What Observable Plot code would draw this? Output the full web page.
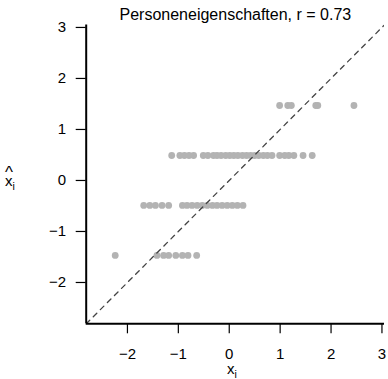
<!DOCTYPE html>
<html>
<head>
<meta charset="utf-8">
<script src="https://cdn.jsdelivr.net/npm/d3@7"></script>
<script src="https://cdn.jsdelivr.net/npm/@observablehq/plot@0.6"></script>
<style>
  html, body { margin: 0; padding: 0; background: #fff; }
  #chart svg { display: block; }
</style>
</head>
<body>
<div id="chart"></div>
<script>
// ---- data ----
const title = "Personeneigenschaften, r = 0.73";
const levels = [1.47, 0.49, -0.49, -1.47];
const xLevel1 = [0.99, 1.15, 1.22, 1.70, 1.74, 2.45];
const xLevel2 = [-1.13, -0.97, -0.88, -0.79, -0.70, -0.51, -0.42, -0.31, -0.24, -0.16, -0.07, 0.01, 0.09, 0.17, 0.26, 0.34, 0.42, 0.50, 0.58, 0.67, 0.75, 0.84, 0.99, 1.09, 1.17, 1.27, 1.45, 1.63];
const xLevel3 = [-1.68, -1.56, -1.45, -1.32, -1.19, -0.92, -0.83, -0.73, -0.63, -0.53, -0.43, -0.33, -0.24, -0.14, -0.04, 0.06, 0.16, 0.27];
const xLevel4 = [-2.24, -1.42, -1.29, -1.19, -1.05, -0.92, -0.81, -0.64];
const ticks = [-2, -1, 0, 1, 2, 3];
const yTicks = [-2, -1, 0, 1, 2, 3];
const lim = [-2.81, 3.05];

const rows = [xLevel1, xLevel2, xLevel3, xLevel4].flatMap((xs, i) => xs.map(x => ({x, y: levels[i]})));

const font = "'Liberation Sans', Arial, Helvetica, sans-serif";
const fmt = d => (d < 0 ? "\u2212" + (-d) : String(d));

const plot = Plot.plot({
  width: 388,
  height: 379,
  marginLeft: 85.7,
  marginRight: 4,
  marginTop: 24.4,
  marginBottom: 55.7,
  style: {fontFamily: font, fontSize: "15px", color: "#000", background: "#fff"},
  x: {domain: lim},
  y: {domain: lim},
  marks: [
    Plot.dot(rows, {x: "x", y: "y", r: 3.4, fill: "#b3b3b3", stroke: null}),
    Plot.line(lim, {x: d => d, y: d => d, stroke: "#444", strokeWidth: 1.3, strokeDasharray: "5,5", clip: true}),
    Plot.ruleX([lim[0]], {y1: lim[0], y2: lim[1], stroke: "#000", strokeWidth: 2}),
    Plot.ruleY([lim[0]], {x1: lim[0], x2: lim[1], stroke: "#000", strokeWidth: 2}),
    Plot.axisX(ticks, {anchor: "bottom", tickSize: 10, tickPadding: 15, tickFormat: fmt, label: null, stroke: "#000", strokeWidth: 1.2, fontSize: 15}),
    Plot.axisY(yTicks, {anchor: "left", tickSize: 10, tickPadding: 10, tickFormat: fmt, label: null, stroke: "#000", strokeWidth: 1.2, fontSize: 15}),
    Plot.text([title], {frameAnchor: "top", lineAnchor: "bottom", dy: -5, fontSize: 16, fill: "#000"})
  ]
});

document.getElementById("chart").appendChild(plot);

// axis labels with subscript / hat
const svg = d3.select(plot);
const xl = svg.append("text")
  .attr("x", 232).attr("y", 374)
  .attr("text-anchor", "middle")
  .attr("font-family", font).attr("font-size", 15).attr("fill", "#000");
xl.append("tspan").text("x");
xl.append("tspan").attr("dy", 4).attr("font-size", 10.5).text("i");

// y label: x-hat with subscript i, in one text element
const ylt = svg.append("text")
  .attr("font-family", font).attr("font-size", 15).attr("fill", "#000");
ylt.append("tspan").attr("x", 10).attr("y", 186).text("x");
ylt.append("tspan").attr("dy", 4).attr("font-size", 10.5).text("i");
ylt.append("tspan").attr("x", 9.1).attr("y", 178).attr("font-size", 17).text("^");
</script>
</body>
</html>
